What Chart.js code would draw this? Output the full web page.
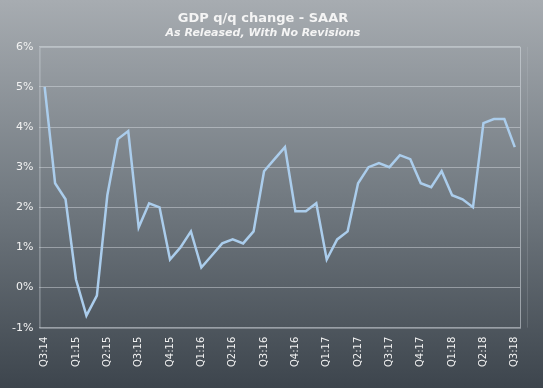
<!DOCTYPE html>
<html>
<head>
<meta charset="utf-8">
<script src="https://cdn.jsdelivr.net/npm/chart.js@4"></script>
<style>
  html, body { margin: 0; padding: 0; background: #6b737a; }
  #wrap { width: 543px; height: 388px; }
</style>
</head>
<body>
<div id="wrap"><canvas id="gdpChart" width="543" height="388"></canvas></div>
<script>
"use strict";

// one tick label every third release
const tickLabels = [
  "Q3:14", "Q1:15", "Q2:15", "Q3:15", "Q4:15", "Q1:16", "Q2:16", "Q3:16",
  "Q4:16", "Q1:17", "Q2:17", "Q3:17", "Q4:17", "Q1:18", "Q2:18", "Q3:18",
];

// GDP q/q SAAR, each estimate as released (%)
const gdpValues = [
  5.0, 2.6, 2.2,
  0.2, -0.7, -0.2,
  2.3, 3.7, 3.9,
  1.5, 2.1, 2.0,
  0.7, 1.0, 1.4,
  0.5, 0.8, 1.1,
  1.2, 1.1, 1.4,
  2.9, 3.2, 3.5,
  1.9, 1.9, 2.1,
  0.7, 1.2, 1.4,
  2.6, 3.0, 3.1,
  3.0, 3.3, 3.2,
  2.6, 2.5, 2.9,
  2.3, 2.2, 2.0,
  4.1, 4.2, 4.2,
  3.5,
];

const yTicks = [-1, 0, 1, 2, 3, 4, 5, 6];

const labels = gdpValues.map((v, i) => (i % 3 === 0 ? tickLabels[i / 3] : ""));

const backgroundPlugin = {
  id: "bgGradient",
  beforeDraw(chart) {
    const { ctx, width, height } = chart;
    const g = ctx.createLinearGradient(0, 0, 0, height);
    g.addColorStop(0, "#a7acb1");
    g.addColorStop(0.5, "#737b82");
    g.addColorStop(1, "#3d454d");
    ctx.save();
    ctx.fillStyle = g;
    ctx.fillRect(0, 0, width, height);
    ctx.restore();
  },
  afterDatasetsDraw(chart) {
    const { ctx, chartArea } = chart;
    ctx.save();
    ctx.strokeStyle = "rgba(215,220,225,0.55)";
    ctx.lineWidth = 1;
    ctx.strokeRect(chartArea.left + 0.5, chartArea.top + 0.5,
      chartArea.right - chartArea.left, chartArea.bottom - chartArea.top);
    ctx.strokeStyle = "rgba(200,205,210,0.18)";
    ctx.beginPath();
    ctx.moveTo(chartArea.right + 7.5, chartArea.top);
    ctx.lineTo(chartArea.right + 7.5, chartArea.bottom);
    ctx.stroke();
    ctx.restore();
  },
};

const ctx = document.getElementById("gdpChart").getContext("2d");

new Chart(ctx, {
  type: "line",
  data: {
    labels: labels,
    datasets: [
      {
        label: "GDP q/q change",
        data: gdpValues,
        borderColor: "#abcdec",
        borderWidth: 2.5,
        pointRadius: 0,
        tension: 0,
        fill: false,
      },
    ],
  },
  options: {
    responsive: false,
    animation: false,
    layout: {
      padding: { left: 6, right: 23, top: 0, bottom: 20 },
    },
    scales: {
      x: {
        offset: true,
        grid: { display: false },
        border: { display: false },
        ticks: {
          autoSkip: false,
          maxRotation: 90,
          minRotation: 90,
          padding: 1,
          color: "#f2f2f2",
          font: { family: "DejaVu Sans", size: 10 },
        },
      },
      y: {
        min: -1,
        max: 6,
        afterBuildTicks(axis) {
          axis.ticks = yTicks.map((v) => ({ value: v }));
        },
        grid: { color: "rgba(220,225,230,0.45)", drawTicks: false },
        border: { display: false },
        ticks: {
          padding: 6,
          color: "#f2f2f2",
          font: { family: "DejaVu Sans", size: 11 },
          callback: (v) => v + "%",
        },
      },
    },
    plugins: {
      legend: { display: false },
      tooltip: { enabled: false },
      title: {
        display: true,
        text: "GDP q/q change - SAAR",
        color: "#f4f4f4",
        font: { family: "DejaVu Sans", size: 13, weight: "bold" },
        padding: { top: 11, bottom: 0 },
      },
      subtitle: {
        display: true,
        text: "As Released, With No Revisions",
        color: "#f4f4f4",
        font: { family: "DejaVu Sans", size: 11, weight: "bold", style: "italic" },
        padding: { top: 0, bottom: 7 },
      },
    },
  },
  plugins: [backgroundPlugin],
});
</script>
</body>
</html>
